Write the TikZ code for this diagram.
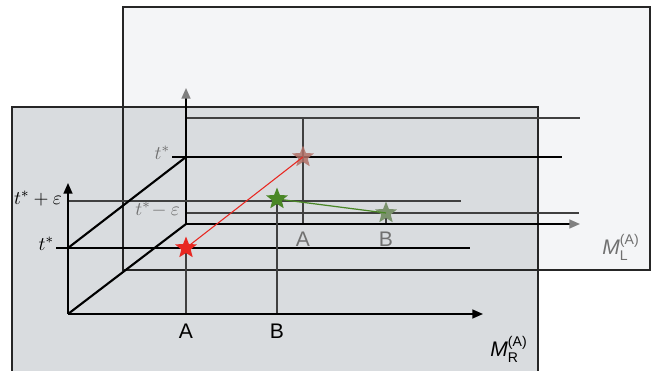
\documentclass[tikz,border=0pt]{standalone}
\usepackage{amsmath}
\usepackage{fontspec}
\setmainfont{Liberation Sans}
\usetikzlibrary{arrows.meta,shapes.geometric}
\definecolor{frontgray}{RGB}{217,220,223}
\definecolor{backwhite}{RGB}{244,245,247}
\definecolor{starred}{RGB}{232,40,34}
\definecolor{fadedred}{RGB}{178,112,102}
\definecolor{stargreen}{RGB}{74,135,38}
\definecolor{fadedgreen}{RGB}{122,146,108}
\definecolor{labelgray}{RGB}{112,112,112}

\tikzset{
  panel/.style={draw=black!85, line width=1pt},
  axisline/.style={line width=1pt},
  gridline/.style={black!75, line width=0.6pt},
  levelline/.style={line width=1.2pt},
  starmark/.style={star, star points=5, star point ratio=2.3, minimum size=13pt, inner sep=0pt},
  axlabel/.style={font=\fontsize{12}{14}\selectfont, inner sep=1pt},
  tlabel/.style={font=\fontsize{11}{13}\selectfont, inner sep=1pt, anchor=east},
}

\begin{document}
\begin{tikzpicture}[x=0.02cm, y=-0.02cm]
    \useasboundingbox (0,0) rectangle (656,371);
    % the two planes
    \fill[backwhite] (123,7) rectangle (650,270);
    \fill[frontgray] (12,107) rectangle (538,374);
    \draw[panel] (123,7) rectangle (650,270);
    \draw[panel] (12,107) rectangle (538,374);

    % back plane M_L
    \coordinate (oL) at (186,224);
    \coordinate (yL) at (186,88);
    \coordinate (xL) at (580,224);
    \draw[gridline] (186,118) -- (580,118);
    \draw[gridline] (186,213) -- (579,213);
    \draw[levelline] (172,157) -- (562,157);
    \draw[gridline] (303,118) -- (303,224);
    \draw[gridline] (386,213) -- (386,224);
    \draw[axisline, -{Triangle[length=6pt, width=5pt, color=gray]}] (oL) -- (yL);
    \draw[axisline, -{Triangle[length=6pt, width=5pt, color=gray]}] (oL) -- (xL);
    \node[tlabel, labelgray] (tL) at (172,153) {$t^*$};
    \node[tlabel, labelgray] (teL) at (182,210) {$t^*\!-\varepsilon$};
    \node[axlabel, labelgray] (aL) at (303,239) {A};
    \node[axlabel, labelgray] (bL) at (386,239) {B};

    % front plane M_R
    \coordinate (oR) at (68,314);
    \coordinate (yR) at (68,183);
    \coordinate (xR) at (483,314);
    \draw[gridline] (68,201) -- (461,201);
    \draw[levelline] (56,248) -- (470,248);
    \draw[gridline] (186,248) -- (186,314);
    \draw[gridline] (277,201) -- (277,314);
    \draw[axisline, -{Triangle[length=6pt, width=5pt]}] (oR) -- (yR);
    \draw[axisline, -{Triangle[length=6pt, width=5pt]}] (oR) -- (xR);
    \node[tlabel] (teR) at (64,199) {$t^* + \varepsilon$};
    \node[tlabel] (tR) at (56,244) {$t^*$};
    \node[axlabel] (aR) at (186,331) {A};
    \node[axlabel] (bR) at (277,331) {B};

    % box edges
    \draw[levelline] (oR) -- (oL);
    \draw[levelline] (68,248) -- (186,157);

    % stars and their links
    \node[starmark, fill=fadedred, fill opacity=0.85] (sLA) at (303,157) {};
    \node[starmark, fill=fadedgreen] (sLB) at (386,213) {};
    \node[starmark, fill=starred] (sRA) at (186,248) {};
    \node[starmark, fill=stargreen] (sRB) at (277,199) {};
    \draw[starred, line width=0.6pt] (sRA.center) -- (sLA.center);
    \draw[stargreen, line width=0.7pt] (sRB.center) -- (sLB.center);

    \node[axlabel, labelgray] (mL) at (621,247) {\textit{M}$^{\text{(A)}}_{\text{L}}$};
    \node[axlabel] (mR) at (509,349) {\textit{M}$^{\text{(A)}}_{\text{R}}$};
\end{tikzpicture}
\end{document}
